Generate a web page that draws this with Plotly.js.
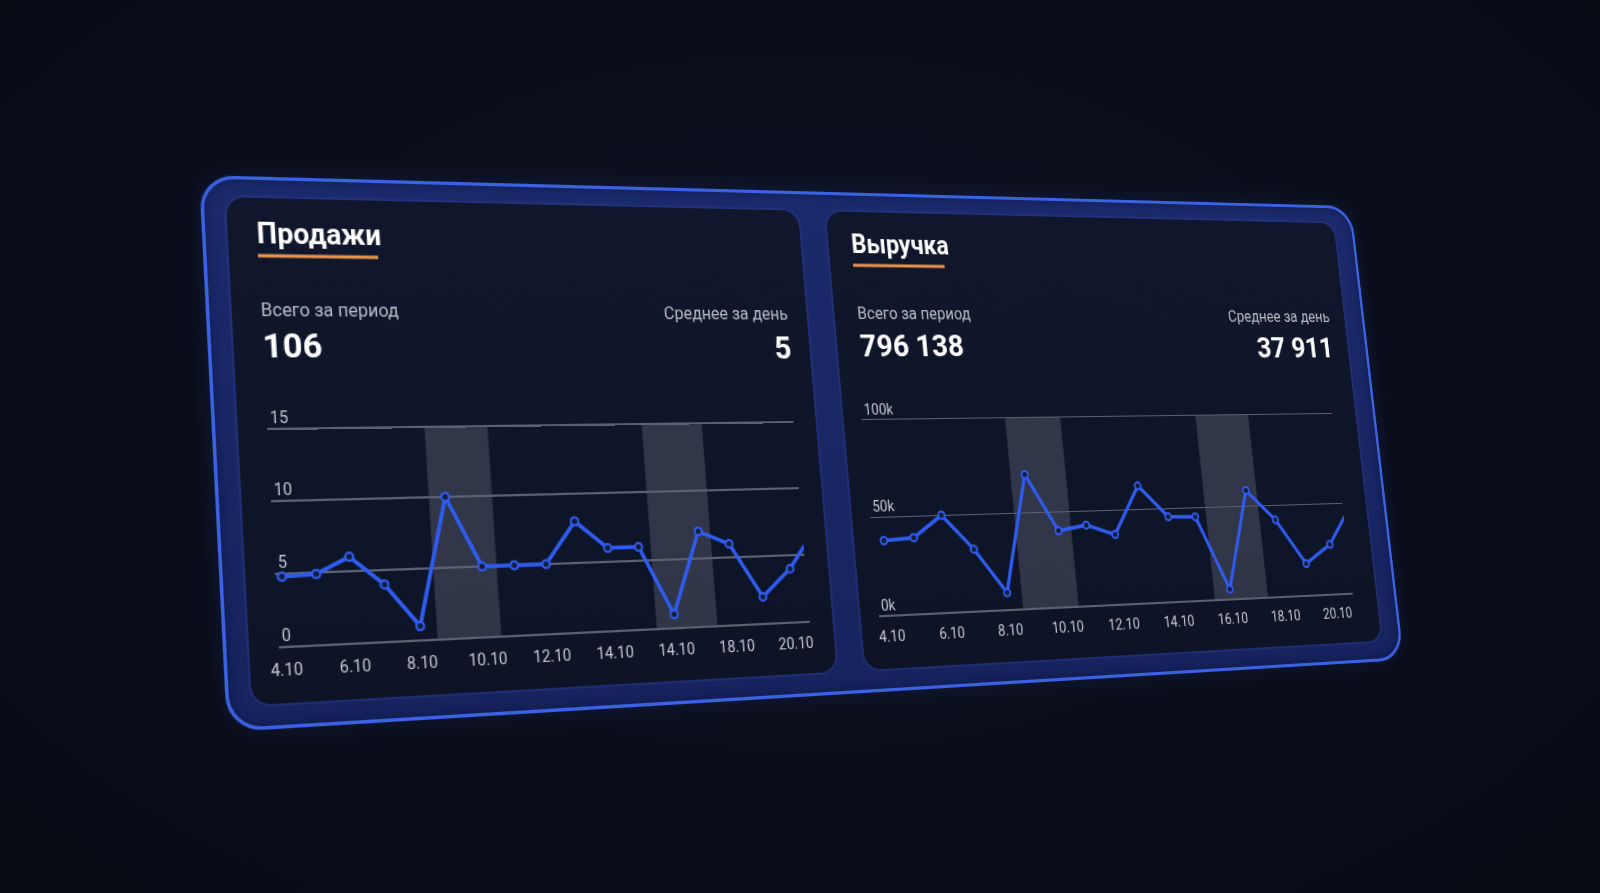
<!DOCTYPE html>
<html>
<head>
<meta charset="utf-8">
<script src="https://cdn.plot.ly/plotly-3.0.1.min.js"></script>
<style>
html,body{margin:0;padding:0;width:1600px;height:893px;overflow:hidden;}
body{background:radial-gradient(ellipse at 50% 45%, #0d1324 0%, #0a0e1a 55%, #080b14 100%);}
#stage{position:absolute;left:0;top:0;width:1200px;height:475px;transform-origin:0 0;}
#frame{position:absolute;left:0;top:0;width:1200px;height:475px;box-sizing:border-box;border-radius:30px;
  border:3px solid #3a62e2;background:linear-gradient(180deg,#1b2a6c 0%,#16235e 100%);
  box-shadow:0 0 22px rgba(45,85,230,0.14), inset 0 0 10px rgba(8,14,50,0.5);}
.card{position:absolute;border-radius:16px;background:linear-gradient(180deg,#10172c 0%,#0e1426 100%);
  box-shadow:0 0 0 2px rgba(45,65,150,0.35);}
#card1{left:22px;top:19px;width:540px;height:435px;}
#card2{left:591px;top:19px;width:584px;height:435px;}
#plot{position:absolute;left:0;top:0;width:1200px;height:475px;}
</style>
</head>
<body>
<div id="stage">
  <div id="frame"></div>
  <div class="card" id="card1"></div>
  <div class="card" id="card2"></div>
  <div id="plot"></div>
</div>
<script>
// ---------- data ----------
const days = [4,5,6,7,8,9,10,11,12,13,14,15,16,17,18,19,20,21];
const sales = [4.8,4.9,6,4,1,10,5,5,5,8,6,6,1,7,6,2,4,7];
const revenue = [38000,39000,50000,32000,9000,70000,40000,42500,37000,62500,45500,45000,5500,58500,42000,17500,27500,49000];
const tickDays = [4,6,8,10,12,14,16,18,20];
const salesTickText = ['4.10','6.10','8.10','10.10','12.10','14.10','14.10','18.10','20.10'];
const revenueTickText = ['4.10','6.10','8.10','10.10','12.10','14.10','16.10','18.10','20.10'];
const salesYTicks = [0,5,10,15];
const salesYText = ['0','5','10','15'];
const revenueYTicks = [0,50000,100000];
const revenueYText = ['0k','50k','100k'];
const weekendStart = [8.5,15.4];
const weekendEnd = [10.45,17.4];
const titles = ['Продажи','Выручка'];
const totalLabel = 'Всего за период';
const avgLabel = 'Среднее за день';
const totals = ['106','796 138'];
const averages = ['5','37 911'];

// ---------- perspective ----------
const W = 1200, H = 475;
const quad = [[199,175],[1351,206],[1404,660],[227,732]];
function quadMatrix(w,h,q){
  const [x0,y0]=q[0],[x1,y1]=q[1],[x2,y2]=q[2],[x3,y3]=q[3];
  const dx1=x1-x2, dx2=x3-x2, dx3=x0-x1+x2-x3;
  const dy1=y1-y2, dy2=y3-y2, dy3=y0-y1+y2-y3;
  const den=dx1*dy2-dx2*dy1;
  const g=(dx3*dy2-dx2*dy3)/den, hh=(dx1*dy3-dx3*dy1)/den;
  const a=x1-x0+g*x1, b=x3-x0+hh*x3, c=x0;
  const d=y1-y0+g*y1, e=y3-y0+hh*y3, f=y0;
  return `matrix3d(${a/w},${d/w},0,${g/w},${b/h},${e/h},0,${hh/h},0,0,1,0,${c},${f},0,1)`;
}
document.getElementById('stage').style.transform = quadMatrix(W,H,quad);

// ---------- chart ----------
const blue = '#2f5cf0';
const fontFam = 'Roboto, "Noto Sans", sans-serif';
function lineTrace(y, xa, ya){
  return {x:days, y:y, xaxis:xa, yaxis:ya, type:'scatter', mode:'lines+markers',
    line:{color:blue, width:3.5}, marker:{size:7, color:'#141c3a', line:{color:blue, width:2}},
    hoverinfo:'skip'};
}
const fy = v => (H - v)/H;   // flat px from top -> paper
const fx = v => v/W;

const shapes = [];
for (let i=0;i<weekendStart.length;i++){
  shapes.push({type:'rect', xref:'x', yref:'y', x0:weekendStart[i], x1:weekendEnd[i], y0:0, y1:15,
    fillcolor:'rgba(120,125,140,0.32)', line:{width:0}, layer:'below'});
  shapes.push({type:'rect', xref:'x2', yref:'y2', x0:weekendStart[i], x1:weekendEnd[i], y0:0, y1:100000,
    fillcolor:'rgba(120,125,140,0.32)', line:{width:0}, layer:'below'});
}
shapes.push({type:'line', xref:'paper', yref:'paper', x0:fx(47), x1:fx(153), y0:fy(70), y1:fy(70),
  line:{color:'#e8944f', width:3}});
shapes.push({type:'line', xref:'paper', yref:'paper', x0:fx(615), x1:fx(713), y0:fy(71), y1:fy(71),
  line:{color:'#e8944f', width:3}});

function ann(text,x,y,anchor,size,color,weight){
  return {text:text, xref:'paper', yref:'paper', x:fx(x), y:fy(y), xanchor:anchor, yanchor:'middle',
    showarrow:false, font:{family:fontFam, size:size, color:color, weight:weight}};
}
const annotations = [
  ann(titles[0],45,50,'left',25,'#ffffff',700),
  ann(totalLabel,45,117,'left',16,'#b8bcc7',400),
  ann(totals[0],45,148,'left',30,'#ffffff',700),
  ann(avgLabel,545,118,'right',16,'#b8bcc7',400),
  ann(averages[0],545,150,'right',30,'#ffffff',700),
  ann(titles[1],613,51,'left',25,'#ffffff',700),
  ann(totalLabel,613,117,'left',16,'#b8bcc7',400),
  ann(totals[1],613,148,'left',30,'#ffffff',700),
  ann(avgLabel,1159,118,'right',16,'#b8bcc7',400),
  ann(averages[1],1159,150,'right',30,'#ffffff',700)
];

const tickFont = {family:fontFam, size:14, color:'#c4c8d2'};
const xCommon = {showgrid:false, zeroline:false, showline:false, ticks:'', tickfont:tickFont,
  ticklabelstandoff:8, ticklabeloverflow:'allow', fixedrange:true, tickvals:tickDays};
const yCommon = {showgrid:true, gridcolor:'#5a6170', gridwidth:1.3, zeroline:false, showline:false,
  ticks:'', tickfont:tickFont, ticklabelposition:'inside top', ticklabeloverflow:'allow', fixedrange:true};

const layout = {
  width:W, height:H, margin:{l:0,r:0,t:0,b:0},
  paper_bgcolor:'rgba(0,0,0,0)', plot_bgcolor:'rgba(0,0,0,0)',
  showlegend:false, font:{family:fontFam, color:'#c4c8d2'},
  xaxis:Object.assign({}, xCommon, {domain:[fx(47),fx(539)], range:[3.8,20.53], ticktext:salesTickText, anchor:'y'}),
  yaxis:Object.assign({}, yCommon, {domain:[fy(408.2),fy(219.8)], range:[-0.1,15.1], tickvals:salesYTicks, ticktext:salesYText, anchor:'x'}),
  xaxis2:Object.assign({}, xCommon, {domain:[fx(610),fx(1146)], range:[3.62,20.67], ticktext:revenueTickText, anchor:'y2'}),
  yaxis2:Object.assign({}, yCommon, {domain:[fy(406.3),fy(218.2)], range:[-700,100700], tickvals:revenueYTicks, ticktext:revenueYText, anchor:'x2'}),
  shapes:shapes, annotations:annotations
};

Plotly.newPlot('plot', [lineTrace(sales,'x','y'), lineTrace(revenue,'x2','y2')], layout,
  {staticPlot:true, displayModeBar:false});
</script>
</body>
</html>
